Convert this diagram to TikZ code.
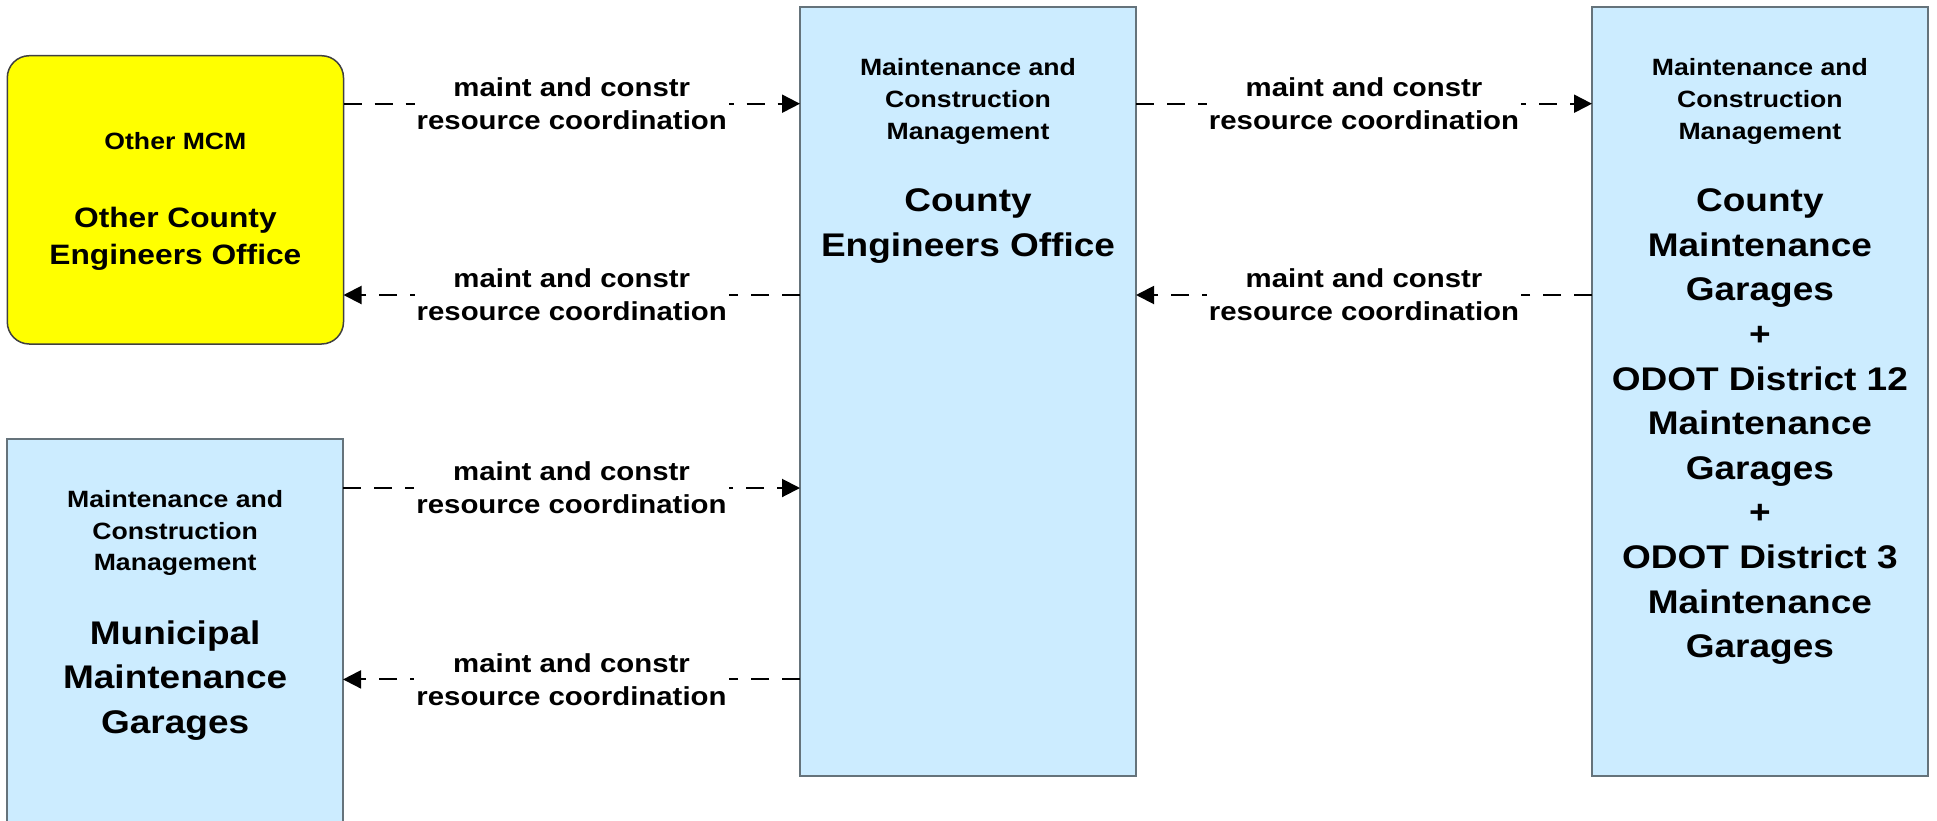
\documentclass[tikz,border=0pt]{standalone}
\usepackage{fontspec}
\newfontfamily\af[FakeStretch=1.13]{Liberation Sans}
\usetikzlibrary{arrows.meta}
\definecolor{boxblue}{HTML}{CCECFF}
\definecolor{boxline}{HTML}{65737B}
\definecolor{yelfill}{HTML}{FFFF00}
\begin{document}
\begin{tikzpicture}[x=0.5pt,y=-0.5pt,
  box/.style={draw=boxline,line width=1pt,fill=boxblue,inner sep=0pt,outer sep=0pt},
  ybox/.style={draw=black!75,line width=0.75pt,fill=yelfill,rounded corners=11pt,inner sep=0pt,outer sep=0pt},
  small/.style={font=\af\bfseries\fontsize{11.78pt}{15.85pt}\selectfont,align=center,anchor=north,inner sep=0pt},
  med/.style={font=\af\bfseries\fontsize{14.03pt}{18.25pt}\selectfont,align=center,anchor=north,inner sep=0pt},
  big/.style={font=\af\bfseries\fontsize{16.37pt}{22.3pt}\selectfont,align=center,anchor=north,inner sep=0pt},
  conn/.style={line width=1pt,dash pattern=on 9pt off 6.5pt,-{Triangle[length=9pt,width=9pt]}},
  lab/.style={font=\af\bfseries\fontsize{13pt}{16.65pt}\selectfont,align=center,fill=white,inner xsep=1pt,inner ysep=0pt}
]
\useasboundingbox (0,0) rectangle (1937,820);
% boxes
\node[box,minimum width=168pt,minimum height=384.35pt] (mid) at (968,391.65) {};
\node[box,minimum width=167.85pt,minimum height=384.35pt] (rgt) at (1759.85,391.65) {};
\node[ybox,minimum width=168.1pt,minimum height=144.15pt] (oth) at (175.4,199.85) {};
\node[box,minimum width=167.85pt,minimum height=200.35pt] (mun) at (175.15,639.65) {};
% texts
\node[small] (midt) at (968,58.3) {Maintenance and\\Construction\\Management};
\node[big] (midn) at (968,188.4) {County\\Engineers Office};
\node[small] (rgtt) at (1759.85,58.3) {Maintenance and\\Construction\\Management};
\node[big] (rgtn) at (1759.85,188.4) {County\\Maintenance\\Garages\\+\\ODOT District 12\\Maintenance\\Garages\\+\\ODOT District 3\\Maintenance\\Garages};
\node[small] (otht) at (175.4,132) {Other MCM};
\node[med] (othn) at (175.4,206.8) {Other County\\Engineers Office};
\node[small] (munt) at (175.15,490) {Maintenance and\\Construction\\Management};
\node[big] (munn) at (175.15,620) {Municipal\\Maintenance\\Garages};
% connector levels
\coordinate (ra) at (0,103.7);
\coordinate (rb) at (0,295);
\coordinate (rc) at (0,488);
\coordinate (rd) at (0,679.4);
% connectors
\draw[conn] (oth.east |- ra) -- node[lab] (l1) {maint and constr\\resource coordination} (mid.west |- ra);
\draw[conn] (mid.west |- rb) -- node[lab] (l2) {maint and constr\\resource coordination} (oth.east |- rb);
\draw[conn] (mun.east |- rc) -- node[lab] (l3) {maint and constr\\resource coordination} (mid.west |- rc);
\draw[conn] (mid.west |- rd) -- node[lab] (l4) {maint and constr\\resource coordination} (mun.east |- rd);
\draw[conn] (mid.east |- ra) -- node[lab] (l5) {maint and constr\\resource coordination} (rgt.west |- ra);
\draw[conn] (rgt.west |- rb) -- node[lab] (l6) {maint and constr\\resource coordination} (mid.east |- rb);
\end{tikzpicture}
\end{document}
